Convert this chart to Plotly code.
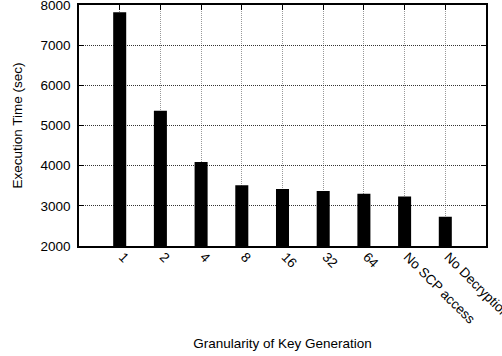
import plotly.graph_objects as go

categories = ["1", "2", "4", "8", "16", "32", "64", "No SCP access", "No Decryption"]
exec_time = [7820, 5370, 4090, 3510, 3420, 3370, 3300, 3230, 2730]
y_ticks = [2000, 3000, 4000, 5000, 6000, 7000, 8000]

x_pos = list(range(len(categories)))

fig = go.Figure()
fig.add_trace(go.Bar(
    x=x_pos, y=exec_time, width=0.32,
    marker=dict(color="black", line=dict(color="black", width=0)),
))

font = "Liberation Sans, Arial, Helvetica, sans-serif"
fs = 13.5
fig.update_layout(
    width=502, height=356,
    margin=dict(l=79, r=16, t=5, b=110),
    plot_bgcolor="white", paper_bgcolor="white",
    showlegend=False,
    font=dict(family=font, size=fs, color="black"),
    xaxis=dict(
        range=[-1, 9], tickmode="array", tickvals=x_pos, ticktext=categories,
        tickangle=45, ticks="inside", ticklen=5, tickcolor="black",
        showline=True, linecolor="black", linewidth=1.5, mirror="ticks",
        showgrid=True, gridcolor="#999999", griddash="1px,1px", gridwidth=1,
        tickfont=dict(size=fs), ticklabeloverflow="allow", automargin=False,
        ticklabelstandoff=-4, ticklabelshift=3,
        title=dict(text="Granularity of Key Generation", font=dict(size=fs), standoff=13),
        zeroline=False,
    ),
    yaxis=dict(
        range=[2000, 8000], tickmode="array", tickvals=y_ticks,
        ticks="inside", ticklen=5, tickcolor="black",
        showline=True, linecolor="black", linewidth=1.5, mirror="ticks",
        showgrid=True, gridcolor="#333333", griddash="1px,1px", gridwidth=1,
        tickfont=dict(size=fs), ticklabelstandoff=4, ticklabeloverflow="allow",
        automargin=False,
        title=dict(text="Execution Time (sec)", font=dict(size=fs), standoff=15),
        zeroline=False,
    ),
)
fig.write_html(
    "out.html",
    config={"displayModeBar": False},
    post_script="document.body.style.margin='0';document.body.style.overflow='hidden';",
)
